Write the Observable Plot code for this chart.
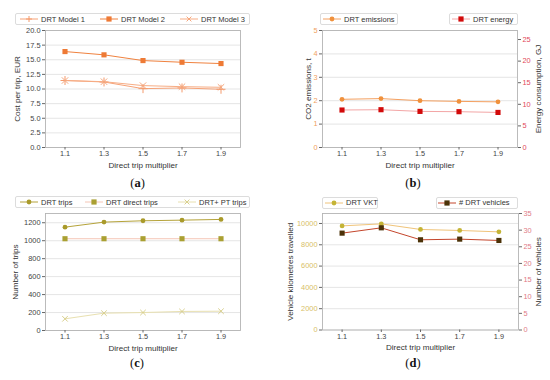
<!DOCTYPE html>
<html><head><meta charset="utf-8">
<script src="https://cdn.jsdelivr.net/npm/d3@7"></script>
<script src="https://cdn.jsdelivr.net/npm/@observablehq/plot@0.6"></script>
<style>
body{margin:0;background:#fff;}
#root{position:relative;width:550px;height:380px;overflow:hidden;font-family:"Liberation Sans",Arial,sans-serif;background:#fff;}
.panel{position:absolute;width:275px;height:190px;}
.panel svg.layer{position:absolute;left:0;top:0;}
.legend{position:absolute;box-sizing:border-box;border:1px solid #dcdcdc;border-radius:2px;background:#fff;}
.item{position:absolute;top:0;height:100%;display:flex;align-items:center;font-size:7.5px;color:#333;white-space:nowrap;}
.item svg{margin-right:3px;}
.tag{position:absolute;width:40px;text-align:center;font-family:"Liberation Serif","Times New Roman",serif;font-size:12.5px;line-height:13px;color:#111;}
</style>
</head><body>
<div id="root"></div>
<script>
// ---- data ----
const multipliers = [1.1, 1.3, 1.5, 1.7, 1.9];
const costModel1 = [11.45, 11.2, 10.06, 10.18, 9.95];
const costModel2 = [16.4, 15.84, 14.86, 14.57, 14.35];
const costModel3 = [11.45, 11.25, 10.58, 10.4, 10.29];
const co2Emissions = [2.06, 2.09, 2.0, 1.97, 1.95];
const energyConsumption = [8.68, 8.75, 8.36, 8.29, 8.12];
const drtTrips = [1151, 1207, 1222, 1229, 1237];
const drtDirectTrips = [1022, 1022, 1022, 1022, 1022];
const drtPtTrips = [130, 193, 200, 212, 215];
const drtVKT = [9775, 9963, 9438, 9344, 9213];
const drtVehicles = [29.1, 30.7, 27.1, 27.3, 26.9];

const costTicks = [0, 2.5, 5, 7.5, 10, 12.5, 15, 17.5, 20];
const co2Ticks = [0, 1, 2, 3, 4, 5];
const energyTicks = [0, 5, 10, 15, 20, 25];
const tripTicks = [0, 200, 400, 600, 800, 1000, 1200];
const vktTicks = [0, 2000, 4000, 6000, 8000, 10000];
const vehicleTicks = [0, 5, 10, 15, 20, 25, 30, 35];

const root = document.getElementById("root");
const W = 275, MB = 26;

function layer({frame, yDomain, yTicks, yFormat = d => String(d), yLabel, yLabelOffset, tickFill = "#444",
                anchor = "left", main = true, xLabelOffset = 19, series}) {
  const [l, t, r, b] = frame;
  const marks = [];
  if (main) {
    marks.push(Plot.gridY(yTicks, {stroke: "#dedede", strokeOpacity: 1, strokeWidth: 0.8}));
    marks.push(Plot.frame({stroke: "#b4b4b4", strokeWidth: 0.9}));
    marks.push(Plot.axisX(multipliers, {tickSize: 2.5, tickPadding: 1, stroke: "#666", fill: "#444",
      tickFormat: d => d.toFixed(1), label: null, fontSize: 7.3}));
    marks.push(Plot.axisX([], {tickSize: 0, label: "Direct trip multiplier", labelArrow: false,
      labelAnchor: "center", labelOffset: xLabelOffset, fontSize: 8.1, fill: "#333"}));
  }
  marks.push(Plot.axisY(yTicks, {anchor, tickSize: 3, tickPadding: 2, stroke: "#666", fill: tickFill,
    tickFormat: yFormat, label: null, fontSize: 7.4}));
  marks.push(Plot.axisY([], {anchor, tickSize: 0, label: yLabel, labelArrow: false, labelAnchor: "center",
    labelOffset: yLabelOffset, fontSize: 8.1, fill: "#333"}));
  for (const s of series) {
    marks.push(Plot.lineY(s.values, {x: multipliers, stroke: s.line, strokeWidth: 1}));
    const filled = s.symbol === "circle" || s.symbol === "square";
    marks.push(Plot.dot(s.values, {x: multipliers, y: d => d, symbol: s.symbol, r: s.r,
      ...(filled ? {fill: s.marker, stroke: "none"} : {stroke: s.marker, strokeWidth: 1, fill: "none"})}));
  }
  const svg = Plot.plot({
    width: W, height: b + MB,
    marginLeft: l, marginTop: t, marginRight: W - r, marginBottom: MB,
    x: {domain: [1, 2], ...(main ? {} : {axis: null})},
    y: {domain: yDomain},
    style: {fontFamily: "'Liberation Sans', Arial, sans-serif", background: "transparent", overflow: "visible"},
    marks
  });
  svg.classList.add("layer");
  return svg;
}

function swatch(s) {
  const c = s.marker;
  let m = "";
  if (s.symbol === "circle") m = `<circle cx="9" cy="4" r="2.4" fill="${c}"/>`;
  else if (s.symbol === "square") m = `<rect x="6.4" y="1.4" width="5.2" height="5.2" fill="${c}"/>`;
  else if (s.symbol === "plus") m = `<path d="M6,4H12M9,1V7" stroke="${c}" stroke-width="1"/>`;
  else m = `<path d="M6.6,1.6L11.4,6.4M11.4,1.6L6.6,6.4" stroke="${c}" stroke-width="1"/>`;
  return `<svg width="18" height="8"><line x1="0" y1="4" x2="18" y2="4" stroke="${s.line}" stroke-width="1"/>${m}</svg>`;
}

function legend(parent, {left, top, width, height = 12, items}) {
  const box = document.createElement("div");
  box.className = "legend";
  Object.assign(box.style, {left: left + "px", top: top + "px", width: width + "px", height: height + "px"});
  for (const it of items) {
    const d = document.createElement("div");
    d.className = "item";
    d.style.left = (it.x - left - 1) + "px";
    d.innerHTML = swatch(it.s) + `<span>${it.s.name}</span>`;
    box.appendChild(d);
  }
  parent.appendChild(box);
}

function panel(ox, oy, tagLetter, tagX, tagY) {
  const p = document.createElement("div");
  p.className = "panel";
  p.style.left = ox + "px"; p.style.top = oy + "px";
  root.appendChild(p);
  const tag = document.createElement("div");
  tag.className = "tag";
  tag.style.left = (tagX - 20) + "px"; tag.style.top = (tagY - 6.5) + "px";
  tag.innerHTML = `(<b>${tagLetter}</b>)`;
  p.appendChild(tag);
  return p;
}

// ---- series styles ----
const sM1 = {name: "DRT Model 1", values: costModel1, symbol: "plus", r: 3, line: "#f6a277", marker: "#f49a6c"};
const sM2 = {name: "DRT Model 2", values: costModel2, symbol: "square", r: 2.9, line: "#f0823f", marker: "#ee7a35"};
const sM3 = {name: "DRT Model 3", values: costModel3, symbol: "times", r: 3, line: "#f7ad85", marker: "#f5a67c"};
const sCO2 = {name: "DRT emissions", values: co2Emissions, symbol: "circle", r: 2.4, line: "#f4a060", marker: "#f0913c"};
const sEn = {name: "DRT energy", values: energyConsumption, symbol: "square", r: 2.9, line: "#f3a6a6", marker: "#d20a0a"};
const sTr = {name: "DRT trips", values: drtTrips, symbol: "circle", r: 2.4, line: "#b5a33a", marker: "#a99a2a"};
const sDi = {name: "DRT direct trips", values: drtDirectTrips, symbol: "square", r: 2.9, line: "#f5c6b6", marker: "#aaa032"};
const sPT = {name: "DRT+ PT trips", values: drtPtTrips, symbol: "times", r: 2.6, line: "#e8e0b0", marker: "#d8cf8c"};
const sVKT = {name: "DRT VKT", values: drtVKT, symbol: "circle", r: 2.4, line: "#f0c47a", marker: "#c4b436"};
const sVeh = {name: "# DRT vehicles", values: drtVehicles, symbol: "square", r: 2.9, line: "#c4462c", marker: "#4b3208"};

// ---- (a) ----
const pa = panel(0, 0, "a", 137.5, 183.5);
pa.appendChild(layer({frame: [45, 30, 240, 147], yDomain: [0, 20], yTicks: costTicks, yFormat: d => d.toFixed(1),
  yLabel: "Cost per trip, EUR", yLabelOffset: 31, xLabelOffset: 20.5, series: [sM1, sM3, sM2]}));
legend(pa, {left: 15, top: 13, width: 235, items: [{x: 20, s: sM1}, {x: 100, s: sM2}, {x: 180, s: sM3}]});

// ---- (b) ----
const pb = panel(275, 0, "b", 138, 183.5);
pb.appendChild(layer({frame: [47, 30, 242, 147], yDomain: [0, 5], yTicks: co2Ticks, tickFill: "#f0a060",
  yLabel: "CO2 emissions, t", yLabelOffset: 17.5, xLabelOffset: 20.5, series: [sCO2]}));
pb.appendChild(layer({frame: [47, 30, 242, 147], yDomain: [0, 27.09], yTicks: energyTicks, tickFill: "#e2485a",
  anchor: "right", main: false, yLabel: "Energy consumption, GJ", yLabelOffset: 23, series: [sEn]}));
legend(pb, {left: 45, top: 13, width: 78, items: [{x: 48, s: sCO2}]});
legend(pb, {left: 174, top: 13, width: 69, items: [{x: 177, s: sEn}]});

// ---- (c) ----
const pc = panel(0, 190, "c", 137, 173.5);
pc.appendChild(layer({frame: [45, 23, 240, 140], yDomain: [0, 1303], yTicks: tripTicks,
  yLabel: "Number of trips", yLabelOffset: 33.5, xLabelOffset: 20, series: [sPT, sDi, sTr]}));
legend(pc, {left: 15, top: 6, width: 235, items: [{x: 20, s: sTr}, {x: 85, s: sDi}, {x: 178, s: sPT}]});

// ---- (d) ----
const pd = panel(275, 190, "d", 138, 173.5);
pd.appendChild(layer({frame: [47, 23, 243, 139.5], yDomain: [0, 10937], yTicks: vktTicks, tickFill: "#d8c068",
  yLabel: "Vehicle kilometres travelled", yLabelOffset: 35.5, xLabelOffset: 20, series: [sVKT]}));
pd.appendChild(layer({frame: [47, 23, 243, 139.5], yDomain: [0, 35], yTicks: vehicleTicks, tickFill: "#e07a86",
  anchor: "right", main: false, yLabel: "Number of vehicles", yLabelOffset: 22, series: [sVeh]}));
legend(pd, {left: 47, top: 6.5, width: 56, items: [{x: 50, s: sVKT}]});
legend(pd, {left: 161, top: 6.5, width: 82, items: [{x: 163, s: sVeh}]});
</script>
</body></html>
